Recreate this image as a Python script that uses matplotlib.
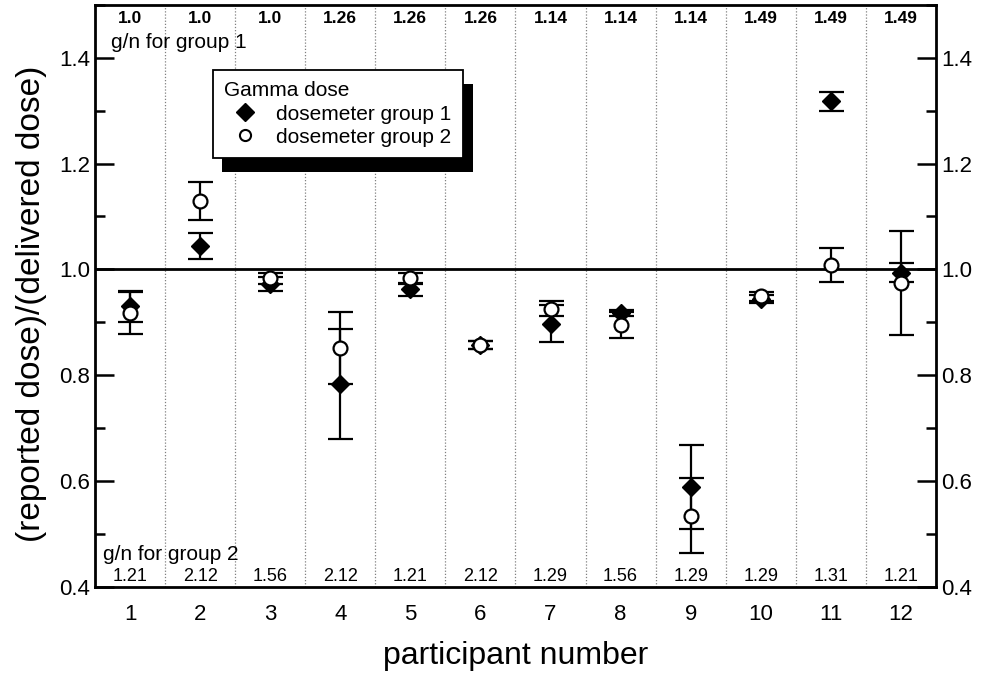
import numpy as np
import matplotlib
matplotlib.use("Agg")
import matplotlib.pyplot as plt
import matplotlib.patheffects as pe
from matplotlib.lines import Line2D
from matplotlib.ticker import MultipleLocator, FormatStrFormatter

plt.rcParams["font.family"] = ["Liberation Sans", "DejaVu Sans"]

participants = np.arange(1, 13)
group1 = [0.930, 1.044, 0.972, 0.784, 0.962, 0.857, 0.897, 0.918, 0.589, 0.944, 1.318, 0.994]
group1_err = [0.030, 0.025, 0.013, 0.104, 0.012, 0.008, 0.035, 0.006, 0.080, 0.008, 0.018, 0.018]
group2 = [0.917, 1.130, 0.983, 0.852, 0.983, 0.857, 0.926, 0.895, 0.535, 0.949, 1.009, 0.974]
group2_err = [0.040, 0.036, 0.010, 0.068, 0.010, 0.008, 0.015, 0.025, 0.070, 0.008, 0.032, 0.098]
gn_group1 = ["1.0", "1.0", "1.0", "1.26", "1.26", "1.26", "1.14", "1.14", "1.14", "1.49", "1.49", "1.49"]
gn_group2 = ["1.21", "2.12", "1.56", "2.12", "1.21", "2.12", "1.29", "1.56", "1.29", "1.29", "1.31", "1.21"]

fig = plt.figure(figsize=(9.94, 6.77), dpi=100)
ax = fig.add_axes([0.0956, 0.133, 0.846, 0.860])

ax.set_xlim(0.5, 12.5)
ax.set_ylim(0.4, 1.5)

# dotted separators between participants
for xv in np.arange(1.5, 12.5, 1.0):
    ax.axvline(xv, color="0.5", linestyle=(0, (1, 1.5)), linewidth=0.9, zorder=0)
ax.axhline(1.0, color="black", linewidth=2.0, zorder=1)

ax.errorbar(participants, group1, yerr=group1_err, fmt="D", color="black",
            markersize=9, capsize=9, capthick=1.6, elinewidth=1.6, zorder=3)
ax.errorbar(participants, group2, yerr=group2_err, fmt="o", color="black",
            markerfacecolor="white", markeredgewidth=1.6, markersize=10,
            capsize=9, capthick=1.6, elinewidth=1.6, zorder=4)

for x, t in zip(participants, gn_group1):
    ax.text(x, 0.976, t, transform=ax.get_xaxis_transform(), ha="center",
            va="center", fontsize=12.5, fontweight="bold")
for x, t in zip(participants, gn_group2):
    ax.text(x, 0.004, t, transform=ax.get_xaxis_transform(), ha="center",
            va="bottom", fontsize=13)
ax.text(0.019, 0.935, "g/n for group 1", transform=ax.transAxes, ha="left",
        va="center", fontsize=15)
ax.text(0.01, 0.055, "g/n for group 2", transform=ax.transAxes, ha="left",
        va="center", fontsize=15)

ax.set_xticks(participants)
ax.tick_params(axis="x", length=0, labelsize=16, pad=12)
ax.yaxis.set_major_locator(MultipleLocator(0.2))
ax.yaxis.set_minor_locator(MultipleLocator(0.1))
ax.tick_params(axis="y", which="both", direction="in", right=True,
               labelright=True, labelsize=16, width=1.8)
ax.tick_params(axis="y", which="major", length=14)
ax.tick_params(axis="y", which="minor", length=7)
ax.yaxis.set_major_formatter(FormatStrFormatter("%.1f"))
for s in ax.spines.values():
    s.set_linewidth(2.0)

ax.set_xlabel("participant number", fontsize=23, labelpad=12)
ax.set_ylabel("(reported dose)/(delivered dose)", fontsize=24)
ax.yaxis.set_label_coords(-0.057, 0.486)

handles = [
    Line2D([], [], marker="D", color="black", linestyle="none", markersize=9),
    Line2D([], [], marker="o", color="black", markerfacecolor="white",
           markeredgewidth=1.5, linestyle="none", markersize=8),
]
leg = ax.legend(handles, ["dosemeter group 1", "dosemeter group 2"],
                loc="upper left", bbox_to_anchor=(0.14, 0.888),
                borderaxespad=0, title="Gamma dose", alignment="left",
                fontsize=15, title_fontsize=15, fancybox=False,
                handlelength=2.0, handletextpad=0.5, borderpad=0.55,
                labelspacing=0.2)
frame = leg.get_frame()
frame.set_edgecolor("black")
frame.set_linewidth(1.3)
frame.set_alpha(1)
frame.set_path_effects([pe.SimplePatchShadow(offset=(7, -10), shadow_rgbFace="black",
                                             alpha=1), pe.Normal()])

fig.savefig("out.png", dpi=100)
